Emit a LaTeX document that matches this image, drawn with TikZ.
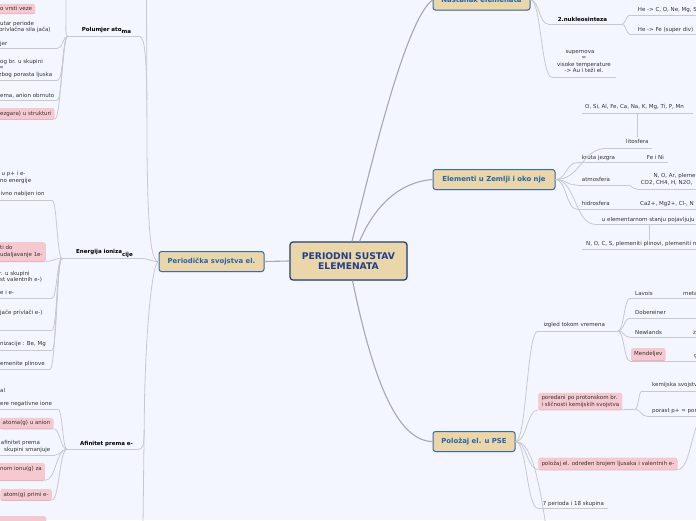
\documentclass[tikz,border=0pt]{standalone}
\usepackage{fontspec}
\setmainfont{DejaVu Sans}
\usetikzlibrary{calc,shadows}
\definecolor{bgc}{HTML}{F3F6FE}
\definecolor{lnc}{HTML}{C8C9CF}
\definecolor{mlc}{HTML}{A8A8AC}
\definecolor{topfill}{HTML}{EAD6A9}
\definecolor{topdraw}{HTML}{3A6AAB}
\definecolor{toptext}{HTML}{2563AC}
\definecolor{cendraw}{HTML}{1F3D7E}
\definecolor{centext}{HTML}{1F3F8C}
\definecolor{pinkf}{HTML}{F5C9CF}
\definecolor{pinksh}{HTML}{E2ABB4}
\definecolor{txc}{HTML}{333333}
\newcommand\mmlink[3][conn]{\draw[#1] (#2) .. controls ($(#2)!0.5!(#2 -| #3)$) and ($(#3)!0.5!(#3 -| #2)$) .. (#3);}
\tikzset{
  sm/.style={font=\fontsize{5.5}{6.5}\selectfont, text=txc, inner sep=0pt, anchor=base west},
  smb/.style={font=\fontsize{5.5}{6.5}\selectfont\bfseries, text=black, inner sep=0pt, anchor=base west},
  conn/.style={draw=lnc, line width=0.8pt},
  mconn/.style={draw=mlc, line width=1.1pt},
  topic/.style={draw=topdraw, fill=topfill, line width=1pt, rounded corners=2.5pt,
    font=\fontsize{6.9}{8}\selectfont\bfseries, text=toptext, inner sep=0pt, minimum height=20pt,
    drop shadow={shadow xshift=0.5pt, shadow yshift=-0.8pt, opacity=0.2}},
  central/.style={draw=cendraw, fill=topfill, line width=1.2pt, rounded corners=3pt,
    font=\fontsize{9.2}{10.8}\selectfont\bfseries, text=centext, align=center, inner sep=0pt,
    minimum width=117pt, minimum height=38pt,
    drop shadow={shadow xshift=0.5pt, shadow yshift=-0.8pt, opacity=0.2}},
  pinkbox/.style={fill=pinkf, rounded corners=2pt, font=\fontsize{5.5}{6.6}\selectfont, text=txc,
    inner xsep=3pt, inner ysep=0pt, align=left,
    drop shadow={shadow xshift=0pt, shadow yshift=-0.9pt, fill=pinksh, opacity=0.9}},
}
\begin{document}
\begin{tikzpicture}[x=1pt,y=-1pt]
\path[use as bounding box, fill=bgc] (0,0) rectangle (696,520);
\begin{scope}
\clip (0,0) rectangle (696,520);
% ---------- central and main topics
\node[central] (c) at (348.5,261) {PERIODNI SUSTAV\\ELEMENATA};
\node[topic, minimum width=105pt] (per) at (211.5,261.5) {Periodička svojstva el.};
\node[topic, minimum width=97pt] (nas) at (481.5,0) {Nastanak elemenata};
\node[topic, minimum width=122pt] (elz) at (494,179.5) {Elementi u Zemlji i oko nje};
\node[topic, minimum width=82pt] (pse) at (474,441.5) {Položaj el. u PSE};
\draw[mconn] (c.west) -- (per.east);
\draw[mconn] ([xshift=3.5pt]c.north) .. controls (370,170) and (405,20) .. (nas.west);
\draw[mconn] ([xshift=11pt]c.north) .. controls (375,205) and (400,182) .. (elz.west);
\draw[mconn] ([xshift=4pt]c.south) .. controls (375,390) and (400,441) .. (pse.west);
% ---------- left: branch labels
\node[smb] (polt) at (81.7,31) {Polumjer ato\raisebox{-2.5pt}{ma}};
\coordinate (polL) at (68,36); \coordinate (polR) at (138,36);
\node[smb] (enet) at (76,253.5) {Energija ioniza\raisebox{-2.5pt}{cije}};
\coordinate (eneL) at (62,258.3); \coordinate (eneR) at (138,258.3);
\node[smb] (afit) at (80,445.5) {Afinitet prema e-};
\coordinate (afiL) at (67,449.3); \coordinate (afiR) at (138,449.3);
\coordinate (spTop) at (146.5,-5);
\coordinate (spBot) at (143,525);
\draw[conn] (polL) -- (polR);
\draw[conn] (eneL) -- (eneR);
\draw[conn] (afiL) -- (afiR);
\draw[conn] (per.west) .. controls (151,261) and (148,235) .. (147,150) -- (spTop);
\draw[conn] (polR) .. controls (144,36) and (146,45) .. (147,100);
\draw[conn] (eneR) .. controls (150,258.3) and (150,261.5) .. (per.west);
\draw[conn] (per.west) .. controls (152,263) and (146,330) .. (144.5,400) -- (spBot);
\draw[conn] (afiR) .. controls (142.5,449.3) and (144.2,446) .. (144.3,430);
% ---------- Polumjer atoma children
\node[pinkbox, anchor=west, minimum height=9.5pt] (p1) at (-3,8.5) {o vrsti veze};
\node[sm] (p2a) at (0,25) {utar periode};
\node[sm] (p2b) at (-1.2,31.7) {privlačna sila jača)};
\node[sm] (p2c) at (0,45) {jer};
\coordinate (p2L) at (-5,48); \coordinate (p2R) at (58,48);
\node[sm] (p3a) at (0,63.5) {og br. u skupini};
\node[sm] (p3b) at (-1,69.8) {=};
\node[sm] (p3c) at (-1.5,76.5) {zbog porasta ljuska};
\coordinate (p3L) at (-5,80); \coordinate (p3R) at (58,80);
\node[sm] (p4a) at (0,97) {ema, anion obrnuto};
\coordinate (p4L) at (-5,100.3); \coordinate (p4R) at (57,100.3);
\node[pinkbox, anchor=west, minimum height=11pt] (p5) at (-3,113.5) {ezgara) u strukturi};
\coordinate (polUp) at (66,-5);
\draw[conn] (p2L) -- (p2R);
\draw[conn] (p3L) -- (p3R);
\draw[conn] (p4L) -- (p4R);
\mmlink{p2R}{polL}
\mmlink{p3R}{polL}
\mmlink{p4R}{polL}
\mmlink{p5.south east}{polL}
\draw[conn] (polL) .. controls (65,36) and (66,30) .. (66,18) -- (polUp);
% ---------- Energija ionizacije children
\node[sm] (e1a) at (1.5,175) {u p+ i e-};
\node[sm] (e1b) at (0,182.5) {no energije};
\node[sm] (e1c) at (0.5,195) {ivno nabijen ion};
\coordinate (e1L) at (-5,200); \coordinate (e1R) at (52,200);
\node[pinkbox, anchor=north west, minimum height=19pt] (e2) at (-3,242) {ti do\\udaljavanje 1e-};
\node[sm] (e3a) at (-1,275) {r. u skupini};
\node[sm] (e3b) at (0,281.3) {st valentnih e-)};
\node[sm] (e3c) at (0,294) {e i e-};
\coordinate (e3L) at (-5,298.3); \coordinate (e3R) at (52,298.3);
\node[sm] (e4a) at (0,314) {jače privlači e-)};
\coordinate (e4L) at (-5,330); \coordinate (e4R) at (52,330);
\node[sm] (e5a) at (0,345) {nizacije : Be, Mg};
\coordinate (e5L) at (-5,350); \coordinate (e5R) at (52,350);
\node[sm] (e6a) at (0,365.5) {emenite plinove};
\coordinate (e6L) at (-5,369.3); \coordinate (e6R) at (50,369.3);
\foreach \n in {e1,e3,e4,e5,e6}{\draw[conn] (\n L) -- (\n R);}
\mmlink{e1R}{eneL}
\mmlink{e2.south east}{eneL}
\mmlink{e3R}{eneL}
\mmlink{e4R}{eneL}
\mmlink{e5R}{eneL}
\mmlink{e6R}{eneL}
% ---------- Afinitet prema e- children
\node[sm] (a1a) at (0,392) {al};
\node[sm] (a1b) at (0,405.5) {ere negativne ione};
\coordinate (a1L) at (-5,409); \coordinate (a1R) at (58,409);
\node[pinkbox, anchor=west, minimum height=10.5pt] (a2) at (-0.5,423.2) {atoma(g) u anion};
\node[sm] (a3a) at (0.7,444.3) {afinitet prema};
\node[sm] (a3b) at (4,451) {skupini smanjuje};
\coordinate (a3L) at (-5,455); \coordinate (a3R) at (55,455);
\node[pinkbox, anchor=north west, minimum height=17pt] (a4) at (-3,463) {nom ionu(g) za\\\phantom{x}};
\node[pinkbox, anchor=west, minimum height=11pt] (a5) at (0.3,494.5) {atom(g) primi e-};
\node[pinkbox, anchor=north west, minimum height=12pt, minimum width=49pt] (a6) at (-3,516) {};
\draw[conn] (a1L) -- (a1R);
\draw[conn] (a3L) -- (a3R);
\mmlink{a1R}{afiL}
\mmlink{a2.south east}{afiL}
\mmlink{a3R}{afiL}
\mmlink{a4.south east}{afiL}
\mmlink{a5.south east}{afiL}
% ---------- Nastanak elemenata
\coordinate (nasUp) at (539,-12);
\draw[conn] (nas.east) .. controls (535,0) and (537,-4) .. (nasUp);
\node[smb] (nuk) at (557.7,21) {2.nukleosinteza};
\coordinate (nukL) at (548,24); \coordinate (nukR) at (622,24);
\node[sm] (he1) at (637.7,11) {He -> C, O, Ne, Mg, Si};
\coordinate (he1L) at (630,15); \coordinate (he1R) at (700,15);
\node[sm] (he2) at (637.7,31.3) {He -> Fe (super div)};
\coordinate (he2L) at (630,34.3); \coordinate (he2R) at (700,34.3);
\node[sm, anchor=base] (sup1) at (580,53.5) {supernova};
\node[sm, anchor=base] (sup2) at (584,59.7) {=};
\node[sm, anchor=base] (sup3) at (584,66.2) {visoke temperature};
\node[sm, anchor=base] (sup4) at (584,72.4) {-> Au i teži el.};
\coordinate (supL) at (552,77.3); \coordinate (supR) at (616,77.3);
\foreach \n in {nuk,he1,he2,sup}{\draw[conn] (\n L) -- (\n R);}
\mmlink{nas.east}{nukL}
\mmlink{nas.east}{supL}
\mmlink{nukR}{he1L}
\mmlink{nukR}{he2L}
% ---------- Elementi u Zemlji i oko nje
\node[sm] (lst) at (585,108.7) {O, Si, Al, Fe, Ca, Na, K, Mg, Ti, P, Mn};
\coordinate (lstL) at (581.7,113.3); \coordinate (lstR) at (693.3,113.3); \coordinate (lstB) at (637,113.3);
\node[sm] (lit) at (626,143.5) {litosfera};
\coordinate (litL) at (607,148.3); \coordinate (litR) at (652,148.3); \coordinate (litT) at (637,137);
\node[sm] (kru) at (581.7,159.5) {kruta jezgra};
\node[sm] (feni) at (646.7,159.5) {Fe i Ni};
\coordinate (kruL) at (577,162.7); \coordinate (kruR) at (668,162.7);
\node[sm] (atm) at (581.7,181.7) {atmosfera};
\coordinate (atmL) at (577,185); \coordinate (atmR) at (627,185);
\node[sm] (atc1) at (653.3,177.5) {N, O, Ar, plemeniti};
\node[sm] (atc2) at (640.7,184) {CO2, CH4, H, N2O,};
\coordinate (atcL) at (637,189); \coordinate (atcR) at (700,189);
\node[sm] (hid) at (581.7,205) {hidrosfera};
\node[sm] (hidc) at (640,205) {Ca2+, Mg2+, Cl-, N};
\coordinate (hidL) at (577,209.3); \coordinate (hidR) at (700,209.3);
\node[sm] (uel) at (601.7,221) {u elementarnom stanju pojavljuju se};
\coordinate (uelL) at (595,224.3); \coordinate (uelR) at (700,224.3); \coordinate (uelB) at (649,224.3);
\node[sm] (uelc) at (586,245) {N, O, C, S, plemeniti plinovi, plemeniti metali};
\coordinate (uelcL) at (581.7,249.3); \coordinate (uelcR) at (700,249.3); \coordinate (uelcT) at (649,240);
\foreach \n in {lst,lit,kru,atm,atc,hid,uel,uelc}{\draw[conn] (\n L) -- (\n R);}
\draw[conn] (litT) -- (lstB);
\draw[conn] (uelB) -- (uelcT);
\mmlink{atmR}{atcL}
\mmlink{elz.east}{litL}
\mmlink{elz.east}{kruL}
\mmlink{elz.east}{atmL}
\mmlink{elz.east}{hidL}
\mmlink{elz.east}{uelL}
% ---------- Polozaj el. u PSE
\node[sm] (izg) at (543.3,326.7) {izgled tokom vremena};
\coordinate (izgL) at (538,331); \coordinate (izgR) at (618,331);
\node[sm] (lav) at (635,295) {Lavois};
\node[sm] (lavc) at (683,295) {meta};
\coordinate (lavL) at (630,298.3); \coordinate (lavR) at (700,298.3);
\node[sm] (dob) at (635,314.3) {Dobereiner};
\coordinate (dobL) at (630,318.3); \coordinate (dobR) at (700,318.3);
\node[sm] (new) at (635,334) {Newlands};
\node[sm] (newc) at (693,334) {z};
\coordinate (newL) at (630,337.3); \coordinate (newR) at (700,337.3);
\node[pinkbox, anchor=south west, minimum height=12pt] (men) at (631,360.3) {Mendeljev};
\node[sm] (menc) at (694,357) {g};
\coordinate (menL) at (630,361); \coordinate (menR) at (700,361);
\foreach \n in {izg,lav,dob,new,men}{\draw[conn] (\n L) -- (\n R);}
\mmlink{izgR}{lavL}
\mmlink{izgR}{dobL}
\mmlink{izgR}{newL}
\mmlink{izgR}{menL}
\node[pinkbox, anchor=north west, minimum height=16.6pt] (por) at (538.3,392.7) {poredani po protonskom br.\\i sličnosti kemijskih svojstva};
\coordinate (porJ) at (635,409.3);
\draw[conn] (por.south east) -- (porJ);
\node[sm] (kem) at (652,386.7) {kemijska svojstva};
\coordinate (kemL) at (642,391); \coordinate (kemR) at (700,391);
\node[sm] (pors) at (652,412.7) {porast p+ = porast};
\coordinate (porsL) at (647,416.3); \coordinate (porsR) at (700,416.3);
\draw[conn] (kemL) -- (kemR);
\draw[conn] (porsL) -- (porsR);
\mmlink{porJ}{kemL}
\mmlink{porJ}{porsL}
\node[pinkbox, anchor=north west, minimum height=12pt] (plz) at (538.3,457.3) {položaj el. određen brojem ljusaka i valentnih e-};
\coordinate (offr) at (706,415);
\mmlink{plz.south east}{offr}
\node[sm] (sed) at (542.7,505) {7 perioda i 18 skupina};
\coordinate (sedL) at (538,508.3); \coordinate (sedR) at (608,508.3);
\draw[conn] (sedL) -- (sedR);
\coordinate (offb) at (548,540);
\mmlink{pse.east}{izgL}
\mmlink{pse.east}{por.south west}
\mmlink{pse.east}{plz.south west}
\mmlink{pse.east}{sedL}
\draw[conn] (pse.east) .. controls (530,441.5) and (538,470) .. (offb);
\end{scope}
\end{tikzpicture}
\end{document}
